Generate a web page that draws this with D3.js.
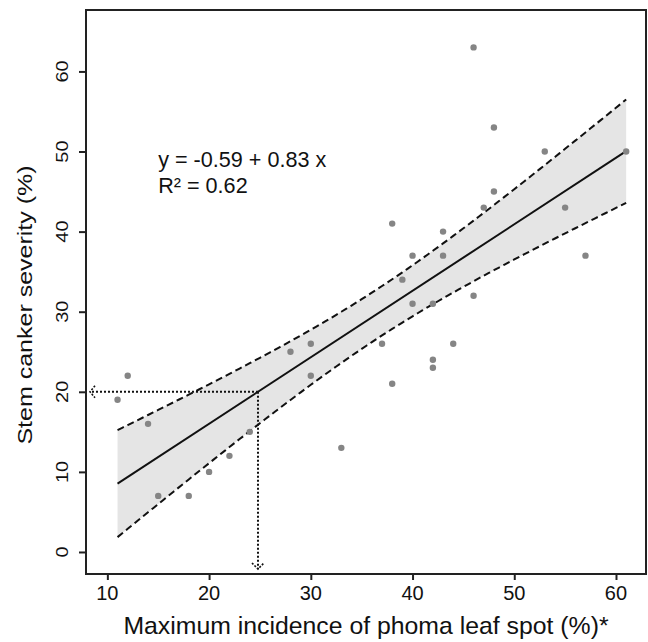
<!DOCTYPE html>
<html>
<head>
<meta charset="utf-8">
<script src="https://cdn.jsdelivr.net/npm/d3@7"></script>
<style>
  html, body { margin: 0; padding: 0; background: #fff; }
  svg { display: block; font-family: Arial, "Liberation Sans", sans-serif; }
</style>
</head>
<body>
<div id="chart"></div>
<script>
'use strict';

// leaf spot incidence (%) per site/season
let incidence = [11, 12, 14, 15, 18, 20, 22, 24, 28, 30, 30, 33, 37, 38, 38, 39, 40,
  40, 42, 42, 42, 43, 43, 44, 46, 46, 47, 48, 48, 53, 55, 57, 61];
// matching stem canker severity (%)
let severity = [19, 22, 16, 7, 7, 10, 12, 15, 25, 26, 22, 13, 26, 21, 41, 34, 37,
  31, 31, 24, 23, 40, 37, 26, 63, 32, 43, 53, 45, 50, 43, 37, 50];

let xTicks = [10, 20, 30, 40, 50, 60];
let yTicks = [0, 10, 20, 30, 40, 50, 60];

// fitted model as printed on the figure
let intercept = -0.59;
let slope = 0.83;
let rSquared = 0.62;
let tCrit = 2.04; // t(0.975, df = 31)

let thresholdSeverity = 20;
let xLabel = 'Maximum incidence of phoma leaf spot (%)*';
let yLabel = 'Stem canker severity (%)';

let width = 648, height = 642;
let margin = { top: 10, right: 2, bottom: 68, left: 86 };

let svg = d3.select('#chart').append('svg')
  .attr('width', width).attr('height', height);

let x = d3.scaleLinear().domain([7.9, 62.95]).range([margin.left, width - margin.right]);
let y = d3.scaleLinear().domain([-2.75, 67.67]).range([height - margin.bottom, margin.top]);

let fit = v => intercept + slope * v;

// confidence band of the mean response
let n = incidence.length;
let meanX = d3.mean(incidence);
let sxx = d3.sum(incidence, v => (v - meanX) * (v - meanX));
let sse = d3.sum(incidence, (v, i) => Math.pow(severity[i] - fit(v), 2));
let se = Math.sqrt(sse / (n - 2));
let halfWidth = v => tCrit * se * Math.sqrt(1 / n + (v - meanX) * (v - meanX) / sxx);

let xMin = d3.min(incidence), xMax = d3.max(incidence);
let grid = d3.range(xMin, xMax, 0.5).concat([xMax]);

let band = d3.area()
  .x(v => x(v))
  .y0(v => y(fit(v) - halfWidth(v)))
  .y1(v => y(fit(v) + halfWidth(v)));

let plot = svg.append('g');

plot.append('path').datum(grid)
  .attr('d', band).style('fill', '#e5e5e5').style('stroke', 'none');

let upper = d3.line().x(v => x(v)).y(v => y(fit(v) + halfWidth(v)));
let lower = d3.line().x(v => x(v)).y(v => y(fit(v) - halfWidth(v)));

[upper, lower].forEach(function (gen) {
  plot.append('path').datum(grid)
    .attr('d', gen)
    .style('fill', 'none').style('stroke', '#111')
    .style('stroke-width', 2).style('stroke-dasharray', '7,4');
});

plot.append('line')
  .attr('x1', x(xMin)).attr('y1', y(fit(xMin)))
  .attr('x2', x(xMax)).attr('y2', y(fit(xMax)))
  .style('stroke', '#111').style('stroke-width', 2);

// points
plot.selectAll('.dot').data(incidence)
  .enter().append('circle').classed('dot', true)
  .attr('cx', d => x(d))
  .attr('cy', (d, i) => y(severity[i]))
  .attr('r', 3.2)
  .style('fill', '#858585');

// dotted read-off arrows at 20 % severity
let xAt = (thresholdSeverity - intercept) / slope;
let dotted = g => g.style('fill', 'none').style('stroke', '#111')
  .style('stroke-width', 2).style('stroke-dasharray', '2,2');

let leftEnd = x.invert(x.range()[0] + 4);
let bottomEnd = y.invert(y.range()[0] - 5);

plot.append('line')
  .attr('x1', x(xAt)).attr('y1', y(thresholdSeverity))
  .attr('x2', x(leftEnd)).attr('y2', y(thresholdSeverity))
  .call(dotted);

plot.append('line')
  .attr('x1', x(xAt)).attr('y1', y(thresholdSeverity))
  .attr('x2', x(xAt)).attr('y2', y(bottomEnd))
  .call(dotted);

let tipL = [x(leftEnd), y(thresholdSeverity)];
plot.append('path')
  .attr('d', `M${tipL[0] + 5},${tipL[1] - 6}L${tipL[0]},${tipL[1]}L${tipL[0] + 5},${tipL[1] + 6}`)
  .style('fill', 'none').style('stroke', '#111').style('stroke-width', 1.6).style('stroke-dasharray', '2,1.5');

let tipB = [x(xAt), y(bottomEnd)];
plot.append('path')
  .attr('d', `M${tipB[0] - 6},${tipB[1] - 6}L${tipB[0]},${tipB[1]}L${tipB[0] + 6},${tipB[1] - 6}`)
  .style('fill', 'none').style('stroke', '#111').style('stroke-width', 1.6).style('stroke-dasharray', '2,1.5');

// equation
let eq = svg.append('g').style('font-size', '21.6px').style('fill', '#111');
eq.append('text')
  .attr('x', x(15)).attr('y', y(48.1))
  .text(`y = ${intercept} + ${slope} x`);
eq.append('text')
  .attr('x', x(15)).attr('y', y(48.1) + 26)
  .text(`R² = ${rSquared}`);

// frame
svg.append('rect')
  .attr('x', x.range()[0]).attr('y', y.range()[1])
  .attr('width', x.range()[1] - x.range()[0])
  .attr('height', y.range()[0] - y.range()[1])
  .style('fill', 'none').style('stroke', '#222').style('stroke-width', 2);

// axes
let xAxis = d3.axisBottom(x).tickValues(xTicks).tickSize(6).tickPadding(6);
let gx = svg.append('g').classed('axis', true)
  .attr('transform', `translate(0,${y.range()[0]})`).call(xAxis);
gx.select('.domain').remove();
gx.selectAll('.tick line').style('stroke', '#222').style('stroke-width', 2);
gx.selectAll('.tick text').remove();

xTicks.forEach(function (t) {
  svg.append('text')
    .attr('x', x(t)).attr('y', 600)
    .attr('text-anchor', 'middle')
    .style('font-size', '20px').style('fill', '#111')
    .text(t);
});

let yAxis = d3.axisLeft(y).tickValues(yTicks).tickSize(7);
let gy = svg.append('g').classed('axis', true)
  .attr('transform', `translate(${x.range()[0]},0)`).call(yAxis);
gy.select('.domain').remove();
gy.selectAll('.tick line').style('stroke', '#222').style('stroke-width', 2);
gy.selectAll('.tick text').remove();

yTicks.forEach(function (t) {
  svg.append('text')
    .attr('transform', `translate(68,${y(t)}) scale(0.8,1) rotate(-90)`)
    .attr('text-anchor', 'middle')
    .style('font-size', '20px').style('fill', '#111')
    .text(t);
});

// axis titles
svg.append('text')
  .attr('x', (x.range()[0] + x.range()[1]) / 2).attr('y', 634)
  .attr('text-anchor', 'middle')
  .style('font-size', '24.8px').style('fill', '#111')
  .text(xLabel);

svg.append('text')
  .attr('transform', `translate(32,305) scale(0.84,1) rotate(-90)`)
  .attr('text-anchor', 'middle')
  .style('font-size', '25px').style('fill', '#111')
  .text(yLabel);
</script>
</body>
</html>
